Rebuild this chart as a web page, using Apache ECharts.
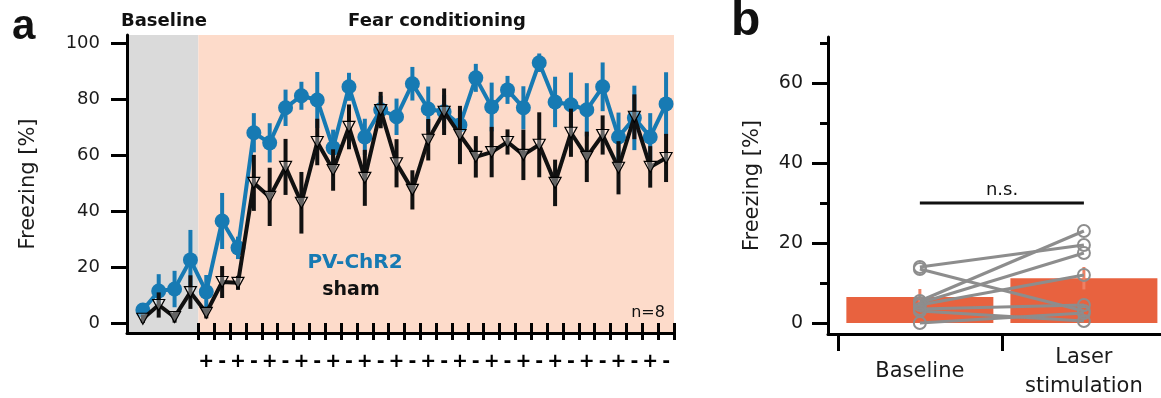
<!DOCTYPE html>
<html><head><meta charset="utf-8">
<script src="https://cdn.jsdelivr.net/npm/echarts@6/dist/echarts.min.js"></script>
<style>html,body{margin:0;padding:0;background:#fff}#c{width:1161px;height:398px}</style>
</head><body><div id="c"></div>
<script>
// ---------- Panel a data ----------
const trials = [1,2,3,4,5,6,7,8,9,10,11,12,13,14,15,16,17,18,19,20,21,22,23,24,25,26,27,28,29,30,31,32,33,34];
const baselineTrials = 4;
const phaseLabels = ['Baseline', 'Fear conditioning'];
const stimLabels = ['+','-','+','-','+','-','+','-','+','-','+','-','+','-','+','-','+','-','+','-','+','-','+','-','+','-','+','-','+','-'];
const pvMean  = [4.6,11.4,12.1,22.5,11.1,36.4,26.8,67.9,64.3,76.8,81.1,79.6,62.5,84.3,66.4,76.1,73.6,85.4,76.4,75.4,70.7,87.5,77.1,83.2,76.8,92.9,78.9,77.9,76.1,84.3,66.4,73.2,66.4,78.2];
const pvSem   = [1.5,6,6.5,10.7,6,10,4,7,7,6.5,5,10,6.5,5,6.5,5,6.5,6,8,6,5.5,5,8.7,5,7.7,3.3,9,11.5,9.5,8.7,8.7,11.5,8.5,11.3];
const shamMean= [1.5,6.4,2.1,11,3.6,14.6,14.3,50,45,55.7,42.9,64.6,54.6,70,51.8,76,57,47.5,65.4,75.4,67.1,59.3,61,64.6,60,63.6,50,67.9,59.3,67.1,55.4,73.6,55.7,58.9];
const shamSem = [1.5,4.5,2,6,2,5.7,2.5,10,10.4,10,11,8.3,7.4,8,10,6.5,8.6,7,7.4,8.3,10.4,7.4,9,4.5,9,11.6,8.3,8.6,9,7,9.5,8,7.4,8.6];
const aTicks = [0,20,40,60,80,100];
const seriesNames = ['PV-ChR2','sham'];
const nLabel = 'n=8';

// ---------- Panel b data ----------
const bCategories = ['Baseline','Laser\nstimulation'];
const bMeans = [6.5, 11.2];
const bSem = [2, 2.8];
const bBaseline = [14, 13.5, 5.5, 5, 4.5, 3.5, 3, 0];
const bLaser    = [19.5, 3, 23, 17.5, 12, 4.5, 0.5, 2.5];
const bTicks = [0,20,40,60];
const bMinorTicks = [10,30,50,70];
const nsLevel = 30;
const nsLabel = 'n.s.';

// ---------- styles ----------
const BLUE = '#177ab3', BLACK = '#111', GREY_BG = '#dadada', PINK_BG = '#fddbca', BAR = '#e8623f', IND = '#8d8d8d';
const FONT = 'DejaVu Sans';
const A_YMIN = -3.6, A_YMAX = 102.8, A_XMAX = trials.length + 0.5;
const B_YMIN = -2.75, B_YMAX = 71.5;
const aLeft = 127, aWidth = 547, aTop = 35, aHeight = 298;
const unit = aWidth / A_XMAX;

function errRender(color, width) {
  return function (params, api) {
    const x = api.value(0), y = api.value(1), e = api.value(2);
    const p1 = api.coord([x, y - e]), p2 = api.coord([x, y + e]);
    return {type:'line', shape:{x1:p1[0], y1:p1[1], x2:p2[0], y2:p2[1]}, style:{stroke:color, lineWidth:width}};
  };
}
const phaseBounds = [[0, baselineTrials + 0.5, 0], [baselineTrials + 0.5, A_XMAX, 1]];

const series = [];
series.push({
  type:'custom', xAxisIndex:0, yAxisIndex:0, z:0, silent:true,
  data: phaseBounds,
  renderItem: function (params, api) {
    const p1 = api.coord([api.value(0), A_YMAX]), p2 = api.coord([api.value(1), A_YMIN]);
    return {type:'rect', shape:{x:p1[0], y:p1[1], width:p2[0]-p1[0], height:p2[1]-p1[1]},
      style:{fill: api.value(2) === 0 ? GREY_BG : PINK_BG}};
  }
});
series.push({type:'custom', xAxisIndex:0, yAxisIndex:0, z:2, renderItem: errRender(BLUE, 4),
  data: trials.map((t,i)=>[t, pvMean[i], pvSem[i]])});
series.push({type:'line', name:seriesNames[0], xAxisIndex:0, yAxisIndex:0, z:3,
  data: trials.map((t,i)=>[t, pvMean[i]]), symbol:'circle', symbolSize:15,
  itemStyle:{color:BLUE}, lineStyle:{color:BLUE, width:4}});
series.push({type:'custom', xAxisIndex:0, yAxisIndex:0, z:4, renderItem: errRender(BLACK, 4),
  data: trials.map((t,i)=>[t, shamMean[i], shamSem[i]])});
series.push({type:'line', name:seriesNames[1], xAxisIndex:0, yAxisIndex:0, z:5,
  data: trials.map((t,i)=>[t, shamMean[i]]), symbol:'triangle', symbolRotate:180, symbolSize:[12,11],
  itemStyle:{color:'rgba(255,255,255,0.35)', borderColor:'#000', borderWidth:1.2}, lineStyle:{color:BLACK, width:4}});

// panel b
series.push({type:'bar', xAxisIndex:2, yAxisIndex:2, z:1, barWidth:147,
  data: bMeans.map((m,i)=>[i+1, m]), itemStyle:{color:BAR}});
series.push({type:'custom', xAxisIndex:2, yAxisIndex:2, z:2, renderItem: errRender('#ef8063', 3),
  data: bMeans.map((m,i)=>[i+1, m, bSem[i]])});
bBaseline.forEach((v,i)=>{
  series.push({type:'line', xAxisIndex:2, yAxisIndex:2, z:3, data:[[1, v],[2, bLaser[i]]],
    symbol:'circle', symbolSize:12, itemStyle:{color:'rgba(0,0,0,0)', borderColor:IND, borderWidth:2},
    lineStyle:{color:IND, width:3}});
});
series.push({type:'line', xAxisIndex:2, yAxisIndex:2, z:3, data:[[1, nsLevel],[2, nsLevel]],
  symbol:'none', lineStyle:{color:BLACK, width:3}});

const labelColor = '#1a1a1a';
const option = {
  animation:false,
  backgroundColor:'#ffffff',
  textStyle:{fontFamily:FONT},
  grid:[
    {left:aLeft, top:aTop, width:aWidth, height:aHeight, containLabel:false, outerBoundsMode:'none'},
    {left:aLeft + (baselineTrials+0.5)*unit, top:aTop, width:stimLabels.length*unit, height:aHeight, containLabel:false, outerBoundsMode:'none'},
    {left:828, top:37, width:333, height:297, containLabel:false, outerBoundsMode:'none'}
  ],
  xAxis:[
    {gridIndex:0, type:'value', min:0, max:A_XMAX,
      axisLine:{show:true, onZero:false, lineStyle:{color:'#000', width:3}},
      axisTick:{show:false}, axisLabel:{show:false}, splitLine:{show:false}},
    {gridIndex:1, type:'category', data:stimLabels, boundaryGap:true,
      axisLine:{show:false}, axisTick:{show:true, interval:0, length:17, lineStyle:{color:'#000', width:3}},
      axisLabel:{show:true, interval:0, margin:20, fontSize:19, fontWeight:'bold', color:'#000', fontFamily:FONT},
      splitLine:{show:false}},
    {gridIndex:2, type:'value', min:0.44, max:2.47,
      axisLine:{show:true, onZero:false, lineStyle:{color:'#000', width:3}},
      axisTick:{show:true, length:17, customValues:[0.5,1.5,2.5], lineStyle:{color:'#000', width:3}},
      axisLabel:{show:true, customValues:[1,2], formatter:(v)=>bCategories[Math.round(v)-1],
        margin:38, verticalAlign:'middle', fontSize:21, lineHeight:29, color:labelColor, fontFamily:FONT},
      splitLine:{show:false}}
  ],
  yAxis:[
    {gridIndex:0, type:'value', min:A_YMIN, max:A_YMAX,
      axisLine:{show:true, onZero:false, lineStyle:{color:'#000', width:3}},
      axisTick:{show:true, length:16, customValues:aTicks, lineStyle:{color:'#000', width:3}},
      axisLabel:{show:true, customValues:aTicks, margin:27, fontSize:18, color:labelColor, fontFamily:FONT},
      splitLine:{show:false},
      name:'Freezing [%]', nameLocation:'middle', nameGap:88, nameTextStyle:{fontSize:21, color:labelColor, fontFamily:FONT}},
    {gridIndex:1, type:'value', min:A_YMIN, max:A_YMAX, show:false},
    {gridIndex:2, type:'value', min:B_YMIN, max:B_YMAX, position:'left',
      axisLine:{show:true, onZero:false, lineStyle:{color:'#000', width:3}},
      axisTick:{show:true, length:16, customValues:bTicks, lineStyle:{color:'#000', width:3}},
      axisLabel:{show:true, customValues:bTicks, margin:25, fontSize:19, color:labelColor, fontFamily:FONT},
      splitLine:{show:false},
      name:'Freezing [%]', nameLocation:'middle', nameGap:65, nameTextStyle:{fontSize:21, color:labelColor, fontFamily:FONT}},
    {gridIndex:2, type:'value', min:B_YMIN, max:B_YMAX, position:'left', offset:0,
      axisLine:{show:false, onZero:false},
      axisTick:{show:true, length:8, customValues:bMinorTicks, lineStyle:{color:'#000', width:3}},
      axisLabel:{show:false}, splitLine:{show:false}}
  ],
  graphic:[
    {type:'text', left:12, top:6, style:{text:'a', fontSize:42, fontWeight:'bold', fontFamily:'Liberation Sans', fill:'#111'}},
    {type:'text', left:731, top:-2, style:{text:'b', fontSize:48, fontWeight:'bold', fontFamily:'Liberation Sans', fill:'#111'}},
    {type:'text', x:164, y:21, style:{text:phaseLabels[0], fontSize:18, fontWeight:'bold', fontFamily:FONT, fill:'#111', align:'center', verticalAlign:'middle'}},
    {type:'text', x:437, y:21, style:{text:phaseLabels[1], fontSize:18, fontWeight:'bold', fontFamily:FONT, fill:'#111', align:'center', verticalAlign:'middle'}},
    {type:'text', x:355, y:263, z:10, style:{text:seriesNames[0], fontSize:20, fontWeight:'bold', fontFamily:FONT, fill:BLUE, align:'center', verticalAlign:'middle'}},
    {type:'text', x:351, y:290, z:10, style:{text:seriesNames[1], fontSize:19, fontWeight:'bold', fontFamily:FONT, fill:'#111', align:'center', verticalAlign:'middle'}},
    {type:'text', x:648, y:313, z:10, style:{text:nLabel, fontSize:16, fontFamily:FONT, fill:'#111', align:'center', verticalAlign:'middle'}},
    {type:'text', x:1002, y:190, z:10, style:{text:nsLabel, fontSize:18, fontFamily:FONT, fill:'#111', align:'center', verticalAlign:'middle'}}
  ],
  series: series
};
const chart = echarts.init(document.getElementById('c'), null, {renderer:'canvas'});
chart.setOption(option);
</script></body></html>
